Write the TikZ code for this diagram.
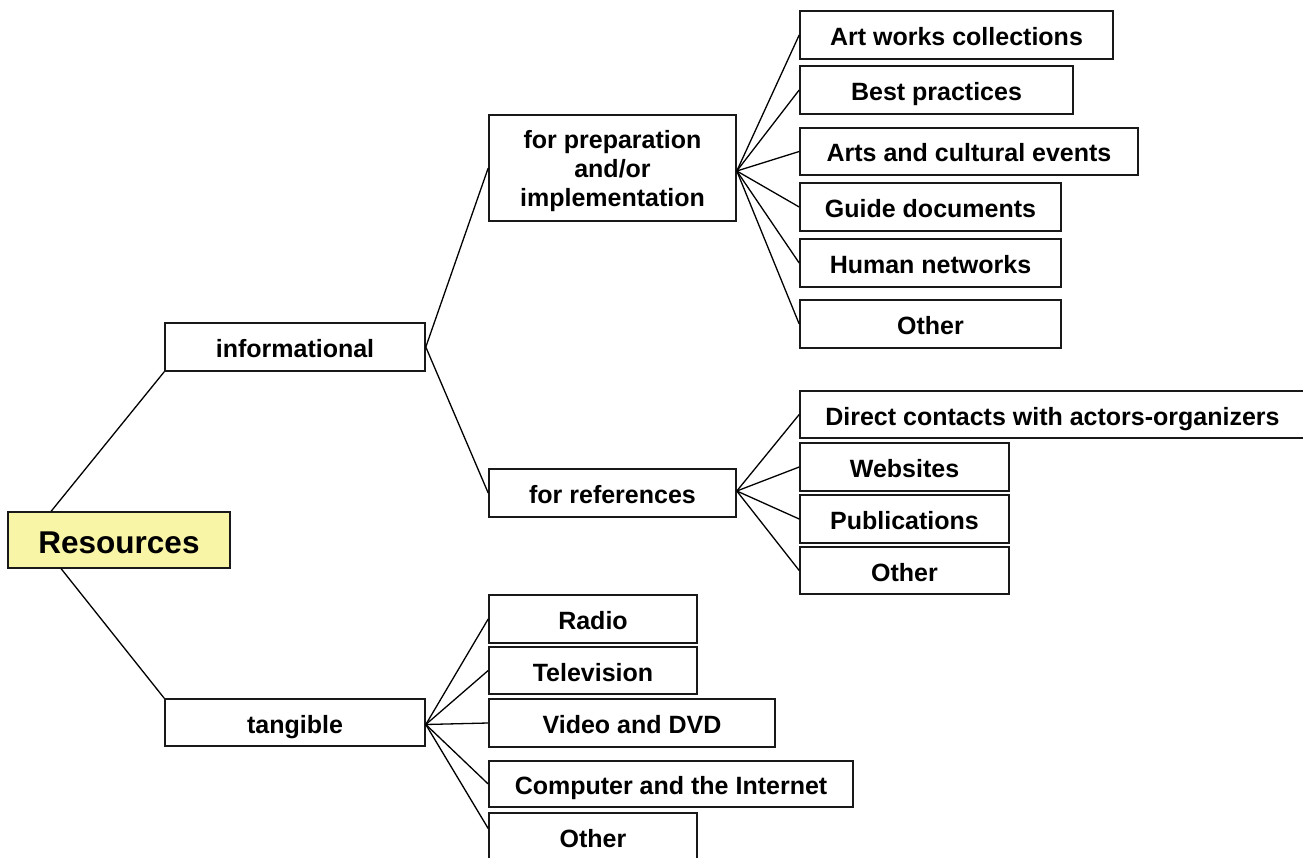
\documentclass[tikz,border=0pt]{standalone}
\usepackage{fontspec}
\setmainfont{Liberation Sans}
\definecolor{rootfill}{RGB}{249,245,166}
\begin{document}
\begin{tikzpicture}[x=1pt,y=-1pt,
  frame/.style={draw=black!90, line width=1.6pt, fill=white, rectangle, inner sep=0pt},
  boxfont/.style={font=\fontsize{25}{29}\selectfont\bfseries},
  box/.style={frame, boxfont, text height=21pt, text depth=0pt},
  rootbox/.style={frame, fill=rootfill, font=\fontsize{31.5}{36}\selectfont\bfseries,
    text height=27.5pt, text depth=0pt},
  link/.style={draw=black, line width=1.3pt}]
\clip (0,0) rectangle (1303,858);
\fill[white] (0,0) rectangle (1303,858);

% root and first level
\node[rootbox, minimum width=222pt, minimum height=56pt] (res) at (119,540) {Resources};
\node[box, minimum width=260pt, minimum height=48pt] (info) at (295,347) {informational};
\node[box, minimum width=260pt, minimum height=47pt] (tang) at (295,722.5) {tangible};

% second level
\node[frame, minimum width=247pt, minimum height=106pt,
  label={[boxfont, align=center, yshift=-3pt]center:for preparation\\and/or\\implementation}]
  (prep) at (612.5,168) {};
\node[box, minimum width=247pt, minimum height=48pt] (refs) at (612.5,493) {for references};

% preparation / implementation
\node[box, minimum width=313pt, minimum height=48pt] (art) at (956.5,35) {Art works collections};
\node[box, minimum width=273pt, minimum height=48pt] (best) at (936.5,90) {Best practices};
\node[box, minimum width=338pt, minimum height=47pt] (arts) at (969,151.5) {Arts and cultural events};
\node[box, minimum width=261pt, minimum height=48pt] (guide) at (930.5,207) {Guide documents};
\node[box, minimum width=261pt, minimum height=48pt] (human) at (930.5,263) {Human networks};
\node[box, minimum width=261pt, minimum height=48pt] (othA) at (930.5,324) {Other};

% references
\node[box, minimum width=505pt, minimum height=47pt] (direct) at (1052.5,414.5) {Direct contacts with actors-organizers};
\node[box, minimum width=209pt, minimum height=48pt] (web) at (904.5,467) {Websites};
\node[box, minimum width=209pt, minimum height=48pt] (pub) at (904.5,519) {Publications};
\node[box, minimum width=209pt, minimum height=47pt] (othB) at (904.5,570.5) {Other};

% tangible
\node[box, minimum width=208pt, minimum height=48pt] (radio) at (593,619) {Radio};
\node[box, minimum width=208pt, minimum height=47pt] (tv) at (593,670.5) {Television};
\node[box, minimum width=286pt, minimum height=48pt] (video) at (632,723) {Video and DVD};
\node[box, minimum width=364pt, minimum height=46pt] (comp) at (671,784) {Computer and the Internet};
\node[box, minimum width=208pt, minimum height=47pt] (othC) at (593,836.5) {Other};

% connectors
\draw[link] ([xshift=44pt]res.north west) -- (info.south west);
\draw[link] ([xshift=54pt]res.south west) -- (tang.north west);
\draw[link] (info.east) -- (prep.west);
\draw[link] (info.east) -- (refs.west);
\foreach \n in {art,best,arts,guide,human,othA}
  \draw[link] ([yshift=-3pt]prep.east) -- (\n.west);
\foreach \n in {direct,web,pub,othB}
  \draw[link] ([yshift=2pt]refs.east) -- (\n.west);
\foreach \n in {radio,tv,video,comp}
  \draw[link] ([yshift=-2pt]tang.east) -- (\n.west);
\draw[link] ([yshift=-2pt]tang.east) -- ([yshift=8pt]othC.west);
\end{tikzpicture}
\end{document}
